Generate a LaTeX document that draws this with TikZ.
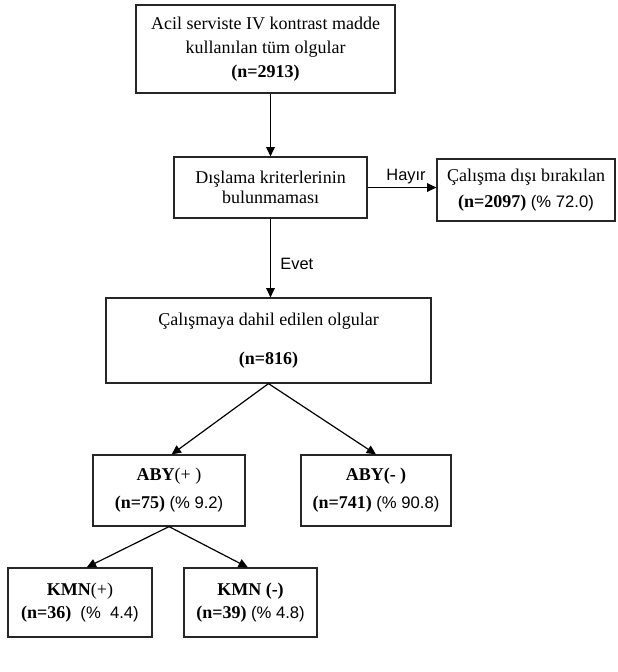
\documentclass[tikz,border=0pt]{standalone}
\usepackage{fontspec}
\setmainfont{Liberation Serif}
\newfontfamily\arial{Liberation Sans}
\usetikzlibrary{arrows.meta}

\begin{document}
\begin{tikzpicture}[x=0.75pt, y=-0.75pt,
  every node/.style={draw, rectangle, align=center, inner sep=0pt, line width=0.9pt, draw=black!85, font=\fontsize{13.5}{18}\selectfont},
  lbl/.style={draw=none, font=\arial\fontsize{12.3}{14}\selectfont},
  arr/.style={-{Triangle[length=7pt, width=6.5pt]}, line width=0.9pt}]
  \useasboundingbox (0,0) rectangle (618,672);

  % Main nodes
  \node[minimum width=194.25pt, minimum height=66pt] (T) at (265.5, 49) {Acil serviste IV kontrast madde\\kullanılan tüm olgular\\\textbf{(n=2913)}};
  \node[minimum width=144.75pt, minimum height=45.75pt, font=\fontsize{13.5}{15}\selectfont] (D) at (270.5, 187.5) {Dışlama kriterlerinin\\bulunmaması};
  \node[minimum width=133.5pt, minimum height=46.5pt, font=\fontsize{13.5}{19}\selectfont] (X) at (526, 190) {Çalışma dışı bırakılan\\\textbf{(n=2097)} {\arial\fontsize{12.5}{14}\selectfont(\% 72.0)}};
  \node[minimum width=243.75pt, minimum height=63.75pt, font=\fontsize{13.5}{29}\selectfont] (C) at (268.5, 340.5) {Çalışmaya dahil edilen olgular\\\textbf{(n=816)}};

  % Lower nodes
  \node[minimum width=114pt, minimum height=53.25pt, font=\fontsize{13.5}{21}\selectfont] (Ap) at (169, 490.5) {\textbf{ABY}(+ )\\\textbf{(n=75)} {\arial\fontsize{12.5}{14}\selectfont(\% 9.2)}};
  \node[minimum width=112.5pt, minimum height=53.25pt, font=\fontsize{13.5}{21}\selectfont] (Am) at (376, 490.5) {\textbf{ABY(- )}\\\textbf{(n=741)} {\arial\fontsize{12.5}{14}\selectfont(\% 90.8)}};
  \node[minimum width=108pt, minimum height=51.75pt, font=\fontsize{13.5}{17}\selectfont] (Kp) at (80, 602.5) {\textbf{KMN}(+)\\\textbf{(n=36)}~~{\arial\fontsize{12.5}{14}\selectfont(\%~~4.4)}};
  \node[minimum width=99.75pt, minimum height=51.75pt, font=\fontsize{13.5}{17}\selectfont] (Km) at (250.5, 602.5) {\textbf{KMN (-)}\\\textbf{(n=39)} {\arial\fontsize{12.5}{14}\selectfont(\% 4.8)}};

  % Edges - main path
  \draw[arr] (D.north |- T.south) -- (D.north);
  \draw[arr] (D.east) -- node[lbl, above=2pt, xshift=3pt] {Hayır} (D.east -| X.west);
  \draw[arr] (D.south) -- node[lbl, right=7pt, pos=0.58] {Evet} (D.south |- C.north);

  % Edges - branches
  \draw[arr] (C.south) -- ([xshift=2pt]Ap.north);
  \draw[arr] (C.south) -- (Am.north);
  \draw[arr] (Ap.south) -- ([xshift=5pt]Kp.north);
  \draw[arr] (Ap.south) -- ([xshift=-2pt]Km.north);
\end{tikzpicture}
\end{document}
